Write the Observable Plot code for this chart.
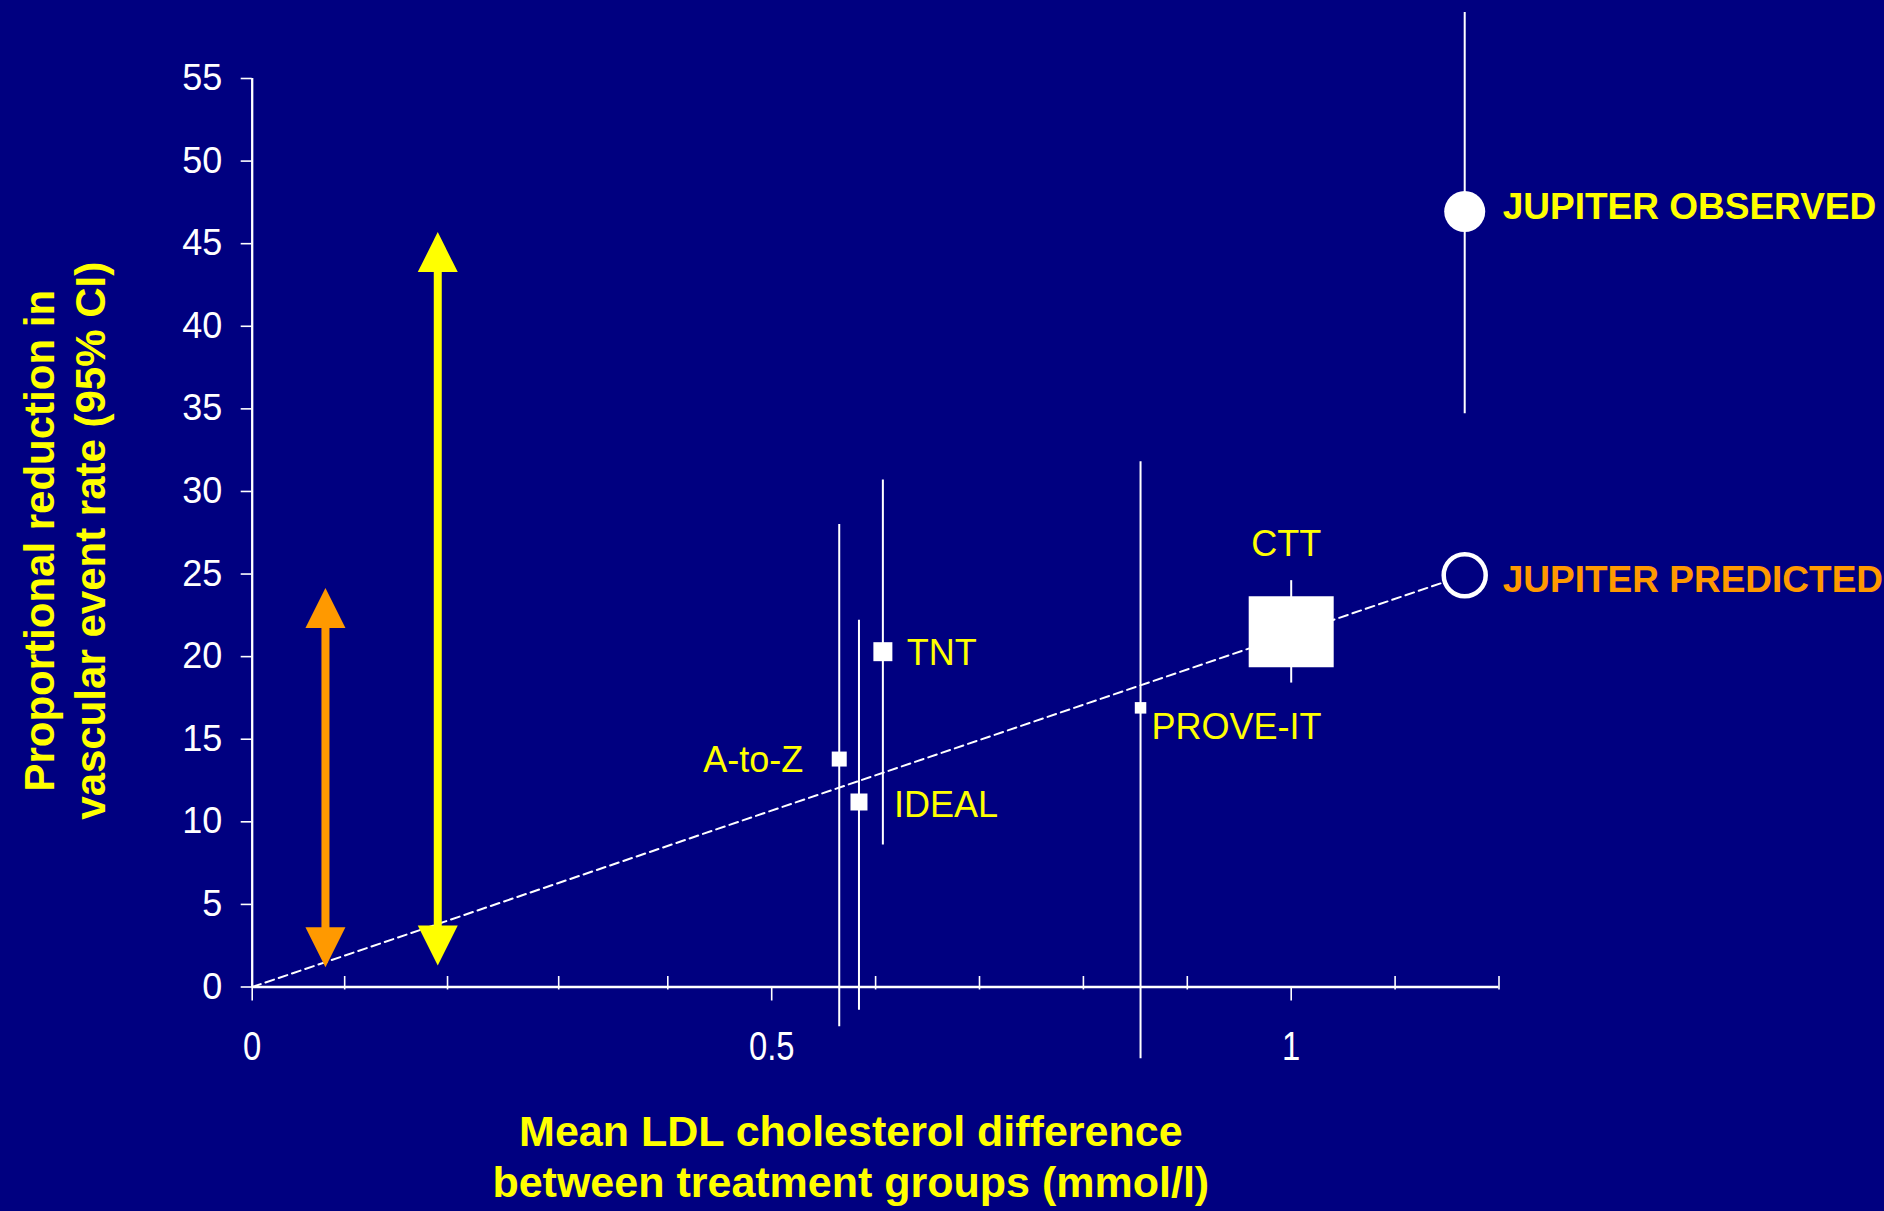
<!DOCTYPE html>
<html>
<head>
<meta charset="utf-8">
<script src="https://cdn.jsdelivr.net/npm/d3@7"></script>
<script src="https://cdn.jsdelivr.net/npm/@observablehq/plot@0.6"></script>
<style>
  html, body { margin: 0; padding: 0; background: #000080; overflow: hidden; }
  #chart svg { display: block; }
</style>
</head>
<body>
<div id="chart"></div>
<script>
// ---------------- data ----------------
const trials     = ["A-to-Z", "IDEAL", "TNT", "PROVE-IT", "CTT"];
const ldlDiff    = [0.565, 0.584, 0.607, 0.855, 1.0];
const reduction  = [13.8, 11.2, 20.3, 16.9, 21.5];
const ciLow      = [-2.4, -1.4, 8.6, -4.35, 18.4];
const ciHigh     = [28.0, 22.2, 30.7, 31.8, 24.6];

const jupiterLabels    = ["JUPITER OBSERVED", "JUPITER PREDICTED"];
const jupiterLdl       = [1.167, 1.167];
const jupiterReduction = [46.95, 24.93];
const jupiterObsCI     = [34.7, 59.0];

const trendX = [0, 1.167];
const trendY = [0, 24.93];

const arrowX    = [0.0705, 0.1786];
const arrowLow  = [1.2, 1.3];
const arrowHigh = [24.15, 45.7];

const yTicks       = [0, 5, 10, 15, 20, 25, 30, 35, 40, 45, 50, 55];
const xTickValues  = [0, 0.5, 1];
const xTickLabels  = ["0", "0.5", "1"];
const xMinorTicks  = [0.089, 0.188, 0.295, 0.4, 0.6, 0.7, 0.8, 0.9, 1.1, 1.2];

const xTitle = "Mean LDL cholesterol difference\nbetween treatment groups (mmol/l)";
const yTitle = "Proportional reduction in\nvascular event rate (95% CI)";

// ---------------- tables built from the arrays ----------------
const rows = trials.map((t, i) => ({trial: t, x: ldlDiff[i], y: reduction[i], lo: ciLow[i], hi: ciHigh[i]}));
const jupiter = jupiterLabels.map((t, i) => ({label: t, x: jupiterLdl[i], y: jupiterReduction[i]}));
const trend = trendX.map((x, i) => ({x, y: trendY[i]}));
const arrows = arrowX.map((x, i) => ({x, lo: arrowLow[i], hi: arrowHigh[i]}));

// ---------------- styles ----------------
const YELLOW = "#ffff00", ORANGE = "#ff9900", WHITE = "#ffffff", NAVY = "#000080";
const squareSide = {"A-to-Z": 15, "IDEAL": 17, "TNT": 19, "PROVE-IT": 11.5};
const labelPos = {
  "A-to-Z":   {dx: -36, dy: 1,   textAnchor: "end"},
  "IDEAL":    {dx: 35,  dy: 3,   textAnchor: "start"},
  "TNT":      {dx: 24,  dy: 2,   textAnchor: "start"},
  "PROVE-IT": {dx: 11,  dy: 20,  textAnchor: "start"},
  "CTT":      {dx: -5,  dy: -87, textAnchor: "middle"}
};

const rectSymbol = (w, h) => ({draw(ctx) { ctx.rect(-w / 2, -h / 2, w, h); }});
const headUp = (w, h) => ({draw(ctx) { ctx.moveTo(0, 0); ctx.lineTo(-w / 2, h); ctx.lineTo(w / 2, h); ctx.closePath(); }});
const headDown = (w, h) => ({draw(ctx) { ctx.moveTo(0, 0); ctx.lineTo(-w / 2, -h); ctx.lineTo(w / 2, -h); ctx.closePath(); }});
const minorTick = {draw(ctx) { ctx.moveTo(0, -11); ctx.lineTo(0, 2.5); }};
const SQRT_PI = Math.sqrt(Math.PI);

const font = "'Liberation Sans', Arial, sans-serif";

const marks = [
  // axes
  Plot.ruleX([0], {y1: 0, y2: 55, stroke: WHITE, strokeWidth: 2.3}),
  Plot.ruleY([0], {stroke: WHITE, strokeWidth: 2.5}),
  Plot.axisY({ticks: yTicks, tickSize: 11, tickPadding: 19, fontSize: 36, label: null, stroke: WHITE, fill: WHITE, strokeWidth: 1.6}),
  Plot.axisX({ticks: xTickValues, tickFormat: d => xTickLabels[xTickValues.indexOf(d)], tickSize: 14, tickPadding: 31,
              fontSize: 40, label: null, stroke: WHITE, fill: WHITE, strokeWidth: 1.6}),
  Plot.dot(xMinorTicks, {x: d => d, y: () => 0, symbol: minorTick, r: 5, stroke: WHITE, strokeWidth: 1.6, fill: "none"}),

  // trend line
  Plot.line(trend, {x: "x", y: "y", stroke: WHITE, strokeWidth: 2, strokeDasharray: "9,5"}),

  // confidence intervals
  Plot.ruleX(rows, {x: "x", y1: "lo", y2: "hi", stroke: WHITE, strokeWidth: 2}),
  Plot.ruleX([jupiter[0]], {x: "x", y1: () => jupiterObsCI[0], y2: () => jupiterObsCI[1], stroke: WHITE, strokeWidth: 2}),

  // trial squares
  ...rows.filter(d => d.trial !== "CTT").map(d =>
    Plot.dot([d], {x: "x", y: "y", symbol: "square", r: squareSide[d.trial] / SQRT_PI, fill: WHITE, stroke: "none"})),
  Plot.dot(rows.filter(d => d.trial === "CTT"), {x: "x", y: "y", symbol: rectSymbol(85, 71), r: 10, fill: WHITE, stroke: "none"}),

  // JUPITER
  Plot.dot([jupiter[0]], {x: "x", y: "y", r: 20.5, fill: WHITE, stroke: "none"}),
  Plot.dot([jupiter[1]], {x: "x", y: "y", r: 21, fill: NAVY, stroke: WHITE, strokeWidth: 4.5}),

  // arrows (shaft shortened so it stops inside the heads)
  Plot.ruleX([arrows[0]], {x: "x", y1: "hi", y2: "lo", stroke: ORANGE, strokeWidth: 8, insetTop: 30, insetBottom: 30}),
  Plot.dot([arrows[0]], {x: "x", y: "hi", symbol: headUp(40, 40), r: 10, fill: ORANGE, stroke: "none"}),
  Plot.dot([arrows[0]], {x: "x", y: "lo", symbol: headDown(40, 40), r: 10, fill: ORANGE, stroke: "none"}),
  Plot.ruleX([arrows[1]], {x: "x", y1: "hi", y2: "lo", stroke: YELLOW, strokeWidth: 8, insetTop: 30, insetBottom: 30}),
  Plot.dot([arrows[1]], {x: "x", y: "hi", symbol: headUp(40, 40), r: 10, fill: YELLOW, stroke: "none"}),
  Plot.dot([arrows[1]], {x: "x", y: "lo", symbol: headDown(40, 40), r: 10, fill: YELLOW, stroke: "none"}),

  // trial labels
  ...rows.map(d => Plot.text([d], {x: "x", y: "y", text: "trial", fill: YELLOW, fontSize: 36,
     dx: labelPos[d.trial].dx, dy: labelPos[d.trial].dy, textAnchor: labelPos[d.trial].textAnchor})),

  // JUPITER labels
  Plot.text([jupiter[0]], {x: "x", y: "y", text: "label", fill: YELLOW, fontSize: 37, fontWeight: "bold", textAnchor: "start", dx: 38, dy: -4}),
  Plot.text([jupiter[1]], {x: "x", y: "y", text: "label", fill: ORANGE, fontSize: 37, fontWeight: "bold", textAnchor: "start", dx: 38, dy: 5}),

  // axis titles
  Plot.text([xTitle], {frameAnchor: "bottom", text: d => d, dx: -24.8, dy: 122, lineAnchor: "top", lineHeight: 1.2,
     textAnchor: "middle", fontSize: 43, fontWeight: "bold", fill: YELLOW}),
  Plot.text([yTitle], {frameAnchor: "left", text: d => d, rotate: -90, dx: -188.7, dy: 8, lineAnchor: "middle", lineHeight: 1.2,
     textAnchor: "middle", fontSize: 42, fontWeight: "bold", fill: YELLOW})
];

const chart = Plot.plot({
  width: 1884,
  height: 1211,
  marginLeft: 251.7,
  marginRight: 385.5,
  marginTop: 78,
  marginBottom: 224.5,
  x: {domain: [0, 1.2]},
  y: {domain: [0, 55]},
  style: {background: NAVY, color: WHITE, fontFamily: font, overflow: "visible"},
  marks
});

// the reference draws the x tick labels in a narrow face: squeeze them horizontally
d3.select(chart).selectAll('g[aria-label="x-axis tick label"] text').each(function() {
  const t = this.getAttribute("transform") || "";
  this.setAttribute("transform", t + " scale(0.82,1)");
});

document.getElementById("chart").appendChild(chart);
</script>
</body>
</html>
